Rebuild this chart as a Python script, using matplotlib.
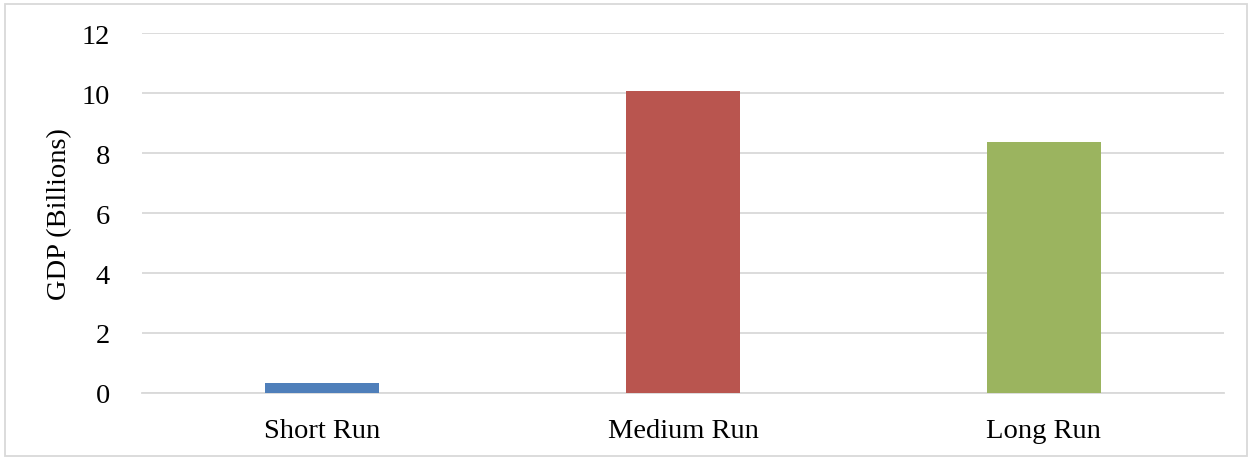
import matplotlib.pyplot as plt
from matplotlib.patches import Rectangle

categories = ["Short Run", "Medium Run", "Long Run"]
gdp = [0.33, 10.07, 8.37]
colors = ["#4f7fba", "#b9554f", "#9bb45f"]
yticks = [0, 2, 4, 6, 8, 10, 12]

plt.rcParams["font.family"] = ["Liberation Serif", "DejaVu Serif"]

fig = plt.figure(figsize=(12.52, 4.6), dpi=100)
# axes area in pixels: x 142..1224, y 34..394 (y=0..12)
ax = fig.add_axes([142 / 1252, (460 - 394) / 460, (1224 - 142) / 1252, 360 / 460])

x = range(len(categories))
ax.bar(x, gdp, width=0.316, color=colors, zorder=3)

ax.set_ylim(0, 12)
ax.set_xlim(-0.5, 2.5)
ax.set_yticks(yticks)
ax.set_xticks(list(x))
ax.set_xticklabels(categories)
ax.tick_params(axis="both", length=0, labelsize=20.5)
ax.tick_params(axis="y", pad=23)
ax.tick_params(axis="x", pad=18)
ax.set_ylabel("GDP (Billions)", fontsize=20.5, labelpad=7)

ax.grid(axis="y", color="#d9d9d9", linewidth=1.3, zorder=0)
for side in ["top", "right", "left"]:
    ax.spines[side].set_visible(False)
ax.spines["bottom"].set_color("#d9d9d9")
ax.spines["bottom"].set_linewidth(1.3)

# light frame around the whole chart
fig.patches.append(Rectangle((5 / 1252, 3 / 460), 1242 / 1252, 452 / 460,
                             transform=fig.transFigure, fill=False,
                             edgecolor="#d9d9d9", linewidth=1.3))

fig.savefig("out.png", dpi=100)
